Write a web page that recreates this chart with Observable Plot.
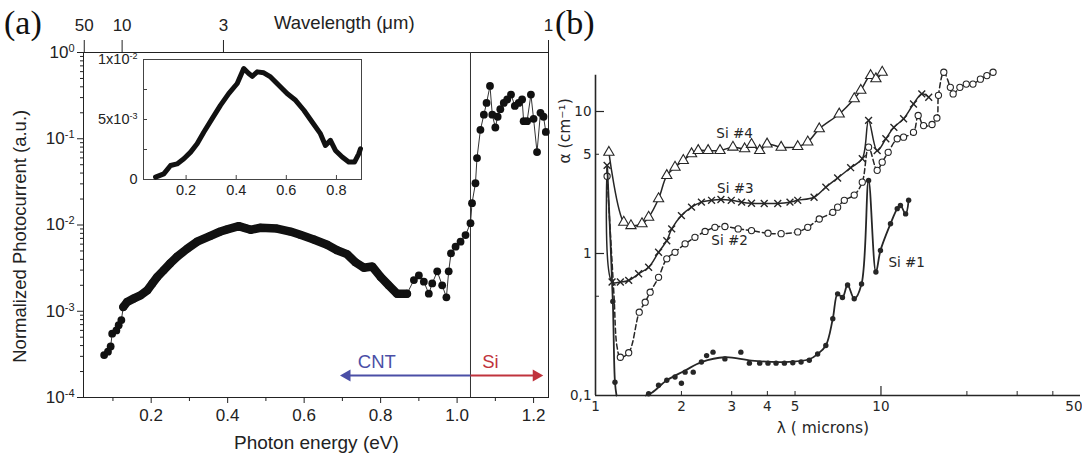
<!DOCTYPE html>
<html><head><meta charset="utf-8">
<script src="https://cdn.jsdelivr.net/npm/d3@7"></script>
<script src="https://cdn.jsdelivr.net/npm/@observablehq/plot@0.6"></script>
<style>
html,body{margin:0;padding:0;background:#fff;}
body{width:1082px;height:461px;position:relative;overflow:hidden;}
.panel{position:absolute;}
.lab{position:absolute;font-family:"Liberation Serif","Times New Roman",serif;font-size:34px;line-height:1;color:#111;}
</style></head><body>
<div id="a" class="panel" style="left:0;top:0"></div>
<div id="inset" class="panel" style="left:88px;top:47px"></div>
<div id="b" class="panel" style="left:550px;top:0"></div>
<div class="lab" style="left:4px;top:6px">(a)</div>
<div class="lab" style="left:555px;top:6px">(b)</div>
<script>
// ---------- Panel (a): photocurrent vs photon energy ----------
const energyEV = [0.077,0.087,0.094,0.098,0.109,0.115,0.122,0.127,0.137,0.155,0.172,0.19,0.203,0.216,0.233,0.25,0.268,0.294,0.32,0.355,0.381,0.399,0.429,0.446,0.46,0.486,0.529,0.564,0.59,0.625,0.66,0.686,0.712,0.734,0.756,0.778,0.80,0.821,0.843,0.869,0.887,0.90,0.913,0.926,0.935,0.948,0.961,0.972,0.978,0.984,0.996,1.009,1.022,1.035,1.039,1.048,1.052,1.061,1.07,1.077,1.086,1.092,1.10,1.106,1.113,1.122,1.131,1.141,1.151,1.161,1.17,1.174,1.183,1.193,1.20,1.209,1.218,1.226,1.232];
const photocurrent = [3.1e-4,3.4e-4,3.9e-4,5.5e-4,6.0e-4,6.9e-4,7.9e-4,1.12e-3,1.28e-3,1.41e-3,1.53e-3,1.75e-3,2.1e-3,2.5e-3,3.0e-3,3.6e-3,4.3e-3,5.3e-3,6.4e-3,7.5e-3,8.4e-3,8.9e-3,9.7e-3,9.2e-3,8.8e-3,9.3e-3,9.1e-3,8.4e-3,7.7e-3,6.8e-3,5.9e-3,5.1e-3,4.6e-3,3.7e-3,3.2e-3,3.3e-3,2.5e-3,2.0e-3,1.6e-3,1.6e-3,2.3e-3,2.6e-3,2.2e-3,1.6e-3,2.1e-3,2.9e-3,2.0e-3,1.45e-3,2.9e-3,4.7e-3,5.6e-3,6.4e-3,7.65e-3,1.05e-2,1.79e-2,3.05e-2,5.97e-2,0.127,0.19,0.26,0.41,0.19,0.135,0.18,0.22,0.26,0.285,0.325,0.24,0.26,0.285,0.16,0.16,0.325,0.17,0.07,0.2,0.18,0.12];
const siEdgeEV = 1.035;
const xTicksA = [0.2,0.4,0.6,0.8,1.0,1.2];
const xMinorA = [0.1,0.3,0.5,0.7,0.9,1.1];
const yTicksA = [1e-4,1e-3,1e-2,1e-1,1];
const topTickEV = [0.025,0.124,0.389,1.239];
const topTickLabels = ["50","10","3","1"];
// inset (linear scale, units of 1e-3)
const insetE = [0.078,0.111,0.138,0.164,0.191,0.218,0.244,0.271,0.304,0.337,0.370,0.404,0.430,0.45,0.464,0.484,0.51,0.537,0.57,0.603,0.637,0.67,0.703,0.736,0.756,0.776,0.796,0.823,0.849,0.872,0.889,0.896];
const insetPC = [0.2,0.47,1.17,1.3,1.73,2.28,2.98,3.96,5.07,6.18,7.16,8.0,9.25,8.83,8.6,8.97,8.89,8.55,7.86,7.16,6.6,5.77,4.79,3.82,2.84,3.26,2.42,1.87,1.45,1.45,2.14,2.56];
const insetXTicks = [0.2,0.4,0.6,0.8];
const insetYTicks = [0,5,10];
const insetYLabels = ["0","5x10^-3","1x10^-2"];
const insetYMinor = [2.5,7.5];

// ---------- Panel (b): absorption of Si samples ----------
const si4L = [1.114,1.256,1.331,1.455,1.535,1.663,1.777,1.899,2.03,2.17,2.29,2.48,2.73,3.03,3.33,3.52,3.76,3.99,4.47,5.11,5.54,6.08,7.14,8.06,8.5,9.2,9.6,10.1];
const si4A = [5.16,1.66,1.57,1.62,1.80,2.43,3.54,4.05,4.52,5.04,5.31,5.31,5.31,5.61,5.46,5.86,5.31,5.9,5.6,5.66,6.1,7.55,9.6,12.3,14.1,17.9,17,18.9];
const si3L = [1.098,1.143,1.222,1.307,1.416,1.535,1.663,1.777,1.849,2.0,2.17,2.35,2.55,2.75,2.99,3.25,3.52,3.9,4.35,4.8,5.11,5.83,6.41,7.05,7.83,8.6,9.05,9.7,10.4,11.1,12.0,13.0,13.9,14.7];
const si3A = [4.17,0.63,0.63,0.646,0.72,0.80,1.02,1.23,1.49,1.85,2.12,2.3,2.37,2.4,2.37,2.3,2.26,2.25,2.25,2.3,2.37,2.49,2.93,3.4,4.02,4.65,8.65,5.3,6.43,7.74,8.89,11.3,13.3,12.6];
const si2L = [1.098,1.16,1.19,1.222,1.307,1.423,1.493,1.554,1.663,1.777,1.899,2.06,2.23,2.42,2.62,2.84,3.16,3.52,4.02,4.47,5.11,5.54,6.08,6.78,7.05,7.44,8.06,8.6,9.05,9.7,10.1,10.6,11.4,12.0,13.0,13.5,14.1,15.1,15.7,15.9,16.6,17.5,17.9,18.9,19.9,21.0,22.3,23.5,24.7];
const si2A = [3.5,0.52,0.22,0.186,0.2,0.386,0.454,0.534,0.68,0.918,1.02,1.17,1.30,1.43,1.53,1.55,1.49,1.45,1.39,1.38,1.42,1.53,1.75,1.95,2.12,2.37,2.58,3.18,5.61,3.85,4.4,5.16,6.43,6.6,7.14,9.37,7.96,8.1,9.0,13,18.9,14.8,13.3,14.8,15.6,15.6,16.9,17.9,18.9];
const si2Marker = si2L.map((l,i)=> i!==1 && i!==2);
// Si #1 drawn curve (two pieces: it dips below the axis) and its measured dots
const si1CurveL = [1.10,1.15,1.17,1.185,null,1.50,1.58,1.777,2.06,2.35,2.84,3.52,4.59,5.61,6.0,6.41,6.78,7.05,7.33,7.64,8.06,8.55,9.05,9.6,9.96,10.8,11.4,11.7,12.2,12.5];
const si1CurveA = [4.0,0.46,0.124,0.1,null,0.1,0.105,0.128,0.15,0.172,0.186,0.176,0.172,0.18,0.196,0.225,0.347,0.52,0.49,0.6,0.48,0.61,3.27,0.74,1.05,1.62,2.07,2.18,1.9,2.37];
const si1DotL = [1.15,1.17,1.535,1.663,1.777,1.899,2.0,2.06,2.2,2.35,2.45,2.58,2.84,3.23,3.46,3.76,4.02,4.29,4.59,4.91,5.25,5.61,6.0,6.41,6.78,7.05,7.33,7.64,8.06,8.55,9.05,9.6,9.96,10.8,11.4,11.7,12.2,12.5];
const si1DotA = [0.46,0.124,0.103,0.118,0.128,0.135,0.122,0.146,0.146,0.172,0.191,0.202,0.181,0.202,0.169,0.169,0.169,0.169,0.169,0.17,0.172,0.177,0.196,0.225,0.347,0.52,0.49,0.6,0.48,0.61,3.27,0.74,1.05,1.62,2.07,2.18,1.9,2.37];
const xTicksB = [1,2,3,4,5,10];
const xEndTickB = 50;
const xMinorB = [20,30,40];
const yTicksB = [0.1,1,5,10];
const yTickLabelsB = ["0,1","1","5","10"];
const yMinorB = [0.5,5];
const seriesLabels = [
  {l:3.07,a:7.0,t:"Si #4"},{l:3.09,a:2.87,t:"Si #3"},{l:2.95,a:1.24,t:"Si #2"},{l:12.3,a:0.86,t:"Si #1"}
];

// ---------- helpers ----------
const NS = "http://www.w3.org/2000/svg";
function superscript(svg, selector, fs, dy) {
  svg.querySelectorAll(selector).forEach(t => {
    const m = t.textContent.match(/^(.*)\^(.*)$/);
    if (!m) return;
    t.textContent = "";
    const a = document.createElementNS(NS, "tspan"); a.textContent = m[1]; t.appendChild(a);
    const b = document.createElementNS(NS, "tspan"); b.textContent = m[2];
    b.setAttribute("dy", dy); b.setAttribute("font-size", fs); t.appendChild(b);
  });
}

// ---------- build panel (a) ----------
const pts = energyEV.map((e,i)=>({e, v:photocurrent[i]}));
const dense = pts.filter(d => d.e >= 0.125 && d.e <= 0.87);
const topTicks = topTickEV.map((e,i)=>({e, t:topTickLabels[i]}));
const yMinorA = [];
for (const d of yTicksA.slice(0,-1)) for (let k=2;k<=9;k++) yMinorA.push(d*k);
const blue = "#4b4fa6", red = "#c0333d";
const arrowY = 1.8e-4;

const styleA = {fontFamily:"'Liberation Sans', Arial, sans-serif", fontSize:"17px", color:"#222", background:"transparent", overflow:"visible"};
const plotA = Plot.plot({
  width:560, height:461, marginLeft:83, marginRight:12, marginTop:52, marginBottom:64,
  style: styleA,
  x:{domain:[0.023,1.239], label:null},
  y:{type:"log", domain:[1e-4,1], label:null},
  marks:[
    Plot.frame({stroke:"#222"}),
    Plot.axisX({ticks:xTicksA, tickFormat:d3.format(".1f"), tickSize:6, tickPadding:5, label:null}),
    Plot.axisX({ticks:xMinorA, tickFormat:()=>"", tickSize:4, label:null}),
    Plot.axisX({anchor:"top", ticks:topTickEV, tickFormat:()=>"", tickSize:13, label:null}),
    Plot.text(topTicks, {x:"e", text:"t", frameAnchor:"top", lineAnchor:"bottom", dy:-22}),
    Plot.axisY({ticks:yTicksA, tickFormat:d=>"10^"+Math.round(Math.log10(d)), tickSize:6, tickPadding:3, label:null}),
    Plot.axisY({ticks:yMinorA, tickFormat:()=>"", tickSize:3, label:null}),
    Plot.text(["Normalized Photocurrent (a.u.)"], {y:()=>7.4e-3, frameAnchor:"left", textAnchor:"middle", dx:-63, rotate:-90, fontSize:18.5, text:d=>d}),
    Plot.text(["Photon energy (eV)"], {x:()=>0.632, frameAnchor:"bottom", dy:51, fontSize:19, text:d=>d}),
    Plot.text(["Wavelength (\u03BCm)"], {x:()=>0.705, frameAnchor:"top", dy:-37, fontSize:18.5, text:d=>d}),
    Plot.ruleX([siEdgeEV], {stroke:"#333", strokeWidth:1}),
    Plot.link([{x1:siEdgeEV, x2:0.715}], {x1:"x1", x2:"x2", y1:()=>arrowY, y2:()=>arrowY, stroke:blue, strokeWidth:2}),
    Plot.link([{x1:siEdgeEV, x2:1.203}], {x1:"x1", x2:"x2", y1:()=>arrowY, y2:()=>arrowY, stroke:red, strokeWidth:2}),
    Plot.dot([{x:0.712}], {x:"x", y:()=>arrowY, symbol:"triangle", rotate:-90, r:4.5, fill:blue}),
    Plot.dot([{x:1.207}], {x:"x", y:()=>arrowY, symbol:"triangle", rotate:90, r:4.5, fill:red}),
    Plot.text(["CNT"], {x:()=>0.79, y:()=>2.55e-4, fill:blue, fontSize:18.5, text:d=>d}),
    Plot.text(["Si"], {x:()=>1.087, y:()=>2.55e-4, fill:red, fontSize:18.5, text:d=>d}),
    Plot.line(pts, {x:"e", y:"v", stroke:"#333", strokeWidth:1}),
    Plot.line(dense, {x:"e", y:"v", stroke:"#111", strokeWidth:8.5, strokeLinejoin:"round", strokeLinecap:"round"}),
    Plot.dot(pts, {x:"e", y:"v", r:3.9, fill:"#111"})
  ]
});
superscript(plotA, 'g[aria-label="y-axis tick label"] text', "11px", "-0.55em");
document.getElementById("a").appendChild(plotA);

// ---------- inset ----------
const insetPts = insetE.map((e,i)=>({e, v:insetPC[i]}));
const insetMap = new Map(insetYTicks.map((v,i)=>[v, insetYLabels[i]]));
const plotIn = Plot.plot({
  width:283, height:157, marginLeft:55, marginRight:10, marginTop:12, marginBottom:25,
  style:{...styleA, fontSize:"14.5px"},
  x:{domain:[0.03,0.9], label:null},
  y:{domain:[0,10], label:null},
  marks:[
    Plot.frame({stroke:"#444"}),
    Plot.axisX({ticks:insetXTicks, tickFormat:d3.format(".1f"), tickSize:0, tickPadding:5, label:null}),
    Plot.axisY({ticks:insetYTicks, tickFormat:d=>insetMap.get(d), tickSize:0, tickPadding:6, label:null}),
    Plot.tickX(insetXTicks, {x:d=>d, insetTop:116, stroke:"#444"}),
    Plot.tickY(insetYTicks.concat(insetYMinor), {y:d=>d, insetRight:214, stroke:"#444"}),
    Plot.line(insetPts, {x:"e", y:"v", stroke:"#111", strokeWidth:5, strokeLinejoin:"round", strokeLinecap:"round"})
  ]
});
superscript(plotIn, 'g[aria-label="y-axis tick label"] text', "9px", "-0.6em");
document.getElementById("inset").appendChild(plotIn);

// ---------- build panel (b) ----------
const si4 = si4L.map((l,i)=>({l, a:si4A[i]}));
const si3 = si3L.map((l,i)=>({l, a:si3A[i]}));
const si2 = si2L.map((l,i)=>({l, a:si2A[i], m:si2Marker[i]}));
const si1c = si1CurveL.map((l,i)=>({l, a:si1CurveA[i]}));
const si1d = si1DotL.map((l,i)=>({l, a:si1DotA[i]}));
const yMapB = new Map(yTicksB.map((v,i)=>[v, yTickLabelsB[i]]));
const ink = "#262626";
const plotHb = 461 - 54.5 - 66, plotWb = 532 - 45 - 2;
const plotB = Plot.plot({
  width:532, height:461, marginLeft:45, marginRight:2, marginTop:54.5, marginBottom:66,
  style:{fontFamily:"'DejaVu Sans', sans-serif", fontSize:"13.5px", color:ink, background:"transparent", overflow:"visible"},
  x:{type:"log", domain:[1,50], label:null},
  y:{type:"log", domain:[0.1,25], label:null},
  marks:[
    Plot.ruleY([0.1], {stroke:ink, strokeWidth:1.6}),
    Plot.ruleX([1], {y1:0.1, y2:18, stroke:ink, strokeWidth:1.6}),
    Plot.tickX([10], {x:d=>d, insetTop:plotHb-9, stroke:ink, strokeWidth:1.2}),
    Plot.tickX([2,3,4,5].concat(xMinorB), {x:d=>d, insetTop:plotHb-4, stroke:ink}),
    Plot.tickY([1,10], {y:d=>d, insetRight:plotWb-9, stroke:ink, strokeWidth:1.2}),
    Plot.tickY(yMinorB, {y:d=>d, insetRight:plotWb-4, stroke:ink}),
    Plot.axisX({ticks:xTicksB, tickFormat:d=>String(d), tickSize:0, tickPadding:6, label:null}),
    Plot.text([xEndTickB], {x:d=>d, frameAnchor:"bottom", textAnchor:"end", lineAnchor:"top", dy:6, dx:2, text:d=>String(d)}),
    Plot.axisY({ticks:yTicksB, tickFormat:d=>yMapB.get(d), tickSize:0, tickPadding:4, label:null}),
    Plot.text(["\u03B1 (cm\u207B\u00B9)"], {y:()=>7.3, frameAnchor:"left", textAnchor:"middle", dx:-30, rotate:-90, fontSize:15.5, text:d=>d}),
    Plot.text(["\u03BB ( microns)"], {x:()=>6.26, frameAnchor:"bottom", dy:37, fontSize:15.5, text:d=>d}),
    Plot.line(si4, {x:"l", y:"a", curve:"catmull-rom", stroke:ink, strokeWidth:1.5}),
    Plot.dot(si4, {x:"l", y:"a", symbol:"triangle", r:3.8, fill:"white", stroke:ink, strokeWidth:1.1}),
    Plot.line(si3, {x:"l", y:"a", curve:"catmull-rom", stroke:ink, strokeWidth:1.5}),
    Plot.dot(si3, {x:"l", y:"a", symbol:"times", r:3.2, stroke:ink, strokeWidth:1.4}),
    Plot.line(si2, {x:"l", y:"a", curve:"catmull-rom", stroke:ink, strokeWidth:1.5, strokeDasharray:"5,3"}),
    Plot.dot(si2.filter(d=>d.m), {x:"l", y:"a", symbol:"circle", r:3.1, fill:"white", stroke:ink, strokeWidth:1.1}),
    Plot.line(si1c, {x:"l", y:"a", curve:"catmull-rom", stroke:ink, strokeWidth:1.8}),
    Plot.dot(si1d, {x:"l", y:"a", r:2.7, fill:ink}),
    Plot.text(seriesLabels, {x:"l", y:"a", text:"t", fontSize:13.5})
  ]
});
document.getElementById("b").appendChild(plotB);
</script>
</body></html>
